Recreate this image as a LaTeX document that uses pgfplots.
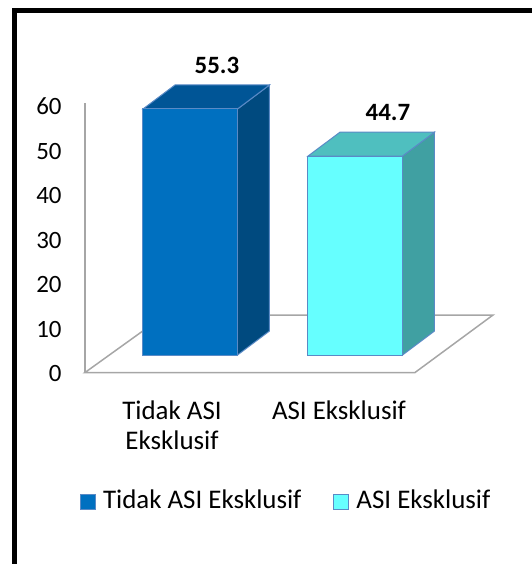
\documentclass[border=0pt]{standalone}
\usepackage{pgfplots}
\pgfplotsset{compat=1.18}
\usepackage{pgfplotstable}
\usepackage{fontspec}
\setmainfont{Carlito}
\definecolor{bA}{HTML}{0070C0}
\definecolor{bAtop}{HTML}{005596}
\definecolor{bAside}{HTML}{004A7F}
\definecolor{bB}{HTML}{66FFFF}
\definecolor{bBtop}{HTML}{4FBFBF}
\definecolor{bBside}{HTML}{40A0A2}
\definecolor{edge}{HTML}{5A8AC6}
\definecolor{gridgray}{HTML}{A6A6A6}
\pgfplotstableread{
L v
143 55.3
308 44.7
}\bars
\begin{document}
\fontsize{12.5}{15}\selectfont
\begin{tikzpicture}
\pgfplotstablegetelem{0}{v}\of\bars \let\vA\pgfplotsretval
\pgfplotstablegetelem{1}{v}\of\bars \let\vB\pgfplotsretval
\pgfplotstablegetelem{0}{L}\of\bars \let\LA\pgfplotsretval
\pgfplotstablegetelem{1}{L}\of\bars \let\LB\pgfplotsretval
\def\base{3.93}\def\dx{32}\def\dy{5.39}\def\bw{94.5}
\pgfmathsetmacro\RA{\LA+\bw}
\pgfmathsetmacro\RB{\LB+\bw}
\pgfmathsetmacro\tA{\base+\vA}
\pgfmathsetmacro\tB{\base+\vB}
\pgfmathsetmacro\RAd{\RA+\dx}
\pgfmathsetmacro\RBd{\RB+\dx}
\pgfmathsetmacro\LAd{\LA+\dx}
\pgfmathsetmacro\LBd{\LB+\dx}
\pgfmathsetmacro\bd{\base+\dy}
\pgfmathsetmacro\tAd{\tA+\dy}
\pgfmathsetmacro\tBd{\tB+\dy}
\useasboundingbox (0,0) rectangle (266bp,282bp);
\clip (0,0) rectangle (266bp,282bp);
\begin{axis}[
  at={(0,0)}, anchor=south west,
  x=0.5bp, y=2.225bp,
  xmin=0, xmax=532, ymin=-43.03, ymax=83.71,
  enlargelimits=false, clip=false,
  axis line style={draw=none},
  tick style={draw=none},
  xtick=\empty,
  ytick={0,10,...,60},
  /pgf/number format/assume math mode=true,
  yticklabel style={anchor=east, inner sep=0pt, xshift=31bp, yshift=-0.5bp},
  font=\fontsize{12.5}{15}\selectfont,
  legend columns=2,
  legend style={at={(0.1504,0.1117)}, anchor=west, draw=none, fill=none,
    inner sep=0pt, outer sep=0pt, font=\fontsize{13.5}{16}\selectfont,
    nodes={inner sep=0pt, anchor=base west},
    /tikz/every odd column/.append style={column sep=3.5bp},
    /tikz/every even column/.append style={column sep=16bp}},
  legend image code/.code={\draw[#1] (0bp,-0.5bp) rectangle (7.5bp,7bp);},
]
% wall and floor
\draw[gridgray, line width=0.75bp] (axis cs:85,0) -- (axis cs:85,60.56);
\draw[gridgray, line width=0.75bp] (axis cs:85,0) -- (axis cs:415,0) -- (axis cs:493,12.92) -- (axis cs:165,12.92) -- cycle;
% bar B (ASI Eksklusif)
\addplot[fill=bBside, draw=edge, line width=0.5bp, forget plot] coordinates {(\RB,\base) (\RBd,\bd) (\RBd,\tBd) (\RB,\tB)} -- cycle;
\addplot[fill=bBtop, draw=edge, line width=0.5bp, forget plot] coordinates {(\LB,\tB) (\RB,\tB) (\RBd,\tBd) (\LBd,\tBd)} -- cycle;
\addplot[fill=bB, draw=edge, line width=0.5bp, forget plot] coordinates {(\LB,\base) (\RB,\base) (\RB,\tB) (\LB,\tB)} -- cycle;
% bar A (Tidak ASI Eksklusif)
\addplot[fill=bAside, draw=edge, line width=0.5bp, forget plot] coordinates {(\RA,\base) (\RAd,\bd) (\RAd,\tAd) (\RA,\tA)} -- cycle;
\addplot[fill=bAtop, draw=edge, line width=0.5bp, forget plot] coordinates {(\LA,\tA) (\RA,\tA) (\RAd,\tAd) (\LAd,\tAd)} -- cycle;
\addplot[fill=bA, draw=edge, line width=0.5bp, forget plot] coordinates {(\LA,\base) (\RA,\base) (\RA,\tA) (\LA,\tA)} -- cycle;
% legend
\addlegendimage{fill=bA, draw=edge, line width=0.5bp}
\addlegendentry{Tidak ASI Eksklusif}
\addlegendimage{fill=bB, draw=edge, line width=0.5bp}
\addlegendentry{ASI Eksklusif}
% value labels
\node[anchor=base, font=\bfseries] at (axis cs:217,{\tAd+2.65}) {\vA};
\node[anchor=base, font=\bfseries] at (axis cs:388,{\tBd+2.65}) {\vB};
% category labels
\node[anchor=base, font=\fontsize{13.5}{16}\selectfont] at (axis cs:172,-10.45) {Tidak ASI};
\node[anchor=base, font=\fontsize{13.5}{16}\selectfont] at (axis cs:172,-17.19) {Eksklusif};
\node[anchor=base, font=\fontsize{13.5}{16}\selectfont] at (axis cs:339,-10.45) {ASI Eksklusif};
\end{axis}
\draw[line width=2.5bp] (7.4bp,-2bp) -- (7.4bp,276.85bp) -- (270bp,276.85bp);
\end{tikzpicture}
\end{document}
